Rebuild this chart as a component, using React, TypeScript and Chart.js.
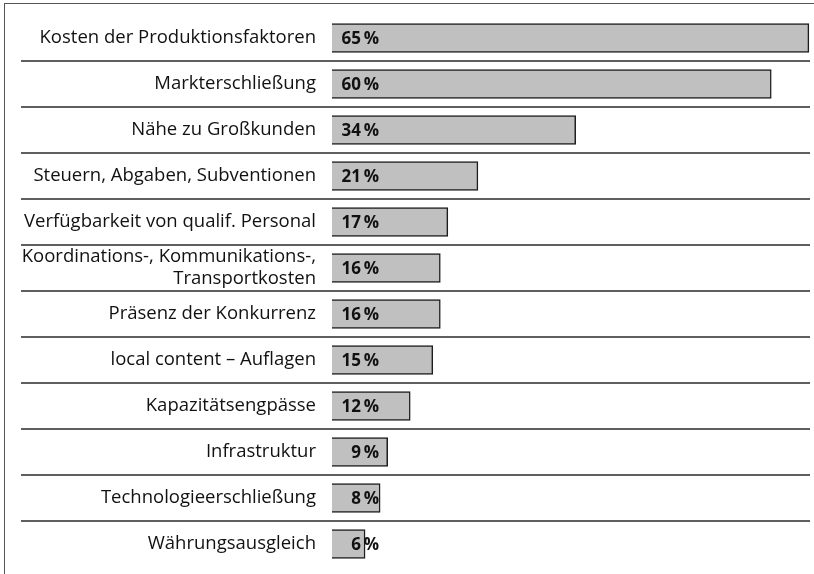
import React, { useEffect, useRef } from "react";
import { Chart, registerables } from "chart.js";

Chart.register(...registerables);

const categories: (string | string[])[] = [
  "Kosten der Produktionsfaktoren",
  "Markterschließung",
  "Nähe zu Großkunden",
  "Steuern, Abgaben, Subventionen",
  "Verfügbarkeit von qualif. Personal",
  ["Koordinations-, Kommunikations-,", "Transportkosten"],
  "Präsenz der Konkurrenz",
  "local content – Auflagen",
  "Kapazitätsengpässe",
  "Infrastruktur",
  "Technologieerschließung",
  "Währungsausgleich",
];

const values: number[] = [65, 60, 34, 21, 17, 16, 16, 15, 12, 9, 8, 6];

const valueLabels: string[] = values.map((v) => `${v}\u2009%`);

const FONT = "'Open Sans', 'Noto Sans', sans-serif";

const decorPlugin = {
  id: "decor",
  afterDatasetsDraw(chart: any) {
    const { ctx, chartArea } = chart;
    const y = chart.scales.y;
    ctx.save();
    // separators between rows
    ctx.strokeStyle = "#2a2a2a";
    ctx.lineWidth = 1.5;
    for (let i = 0; i < categories.length - 1; i++) {
      const yy = (y.getPixelForValue(i) + y.getPixelForValue(i + 1)) / 2;
      ctx.beginPath();
      ctx.moveTo(21, yy);
      ctx.lineTo(chartArea.right, yy);
      ctx.stroke();
    }
    // value labels
    const meta = chart.getDatasetMeta(0);
    ctx.fillStyle = "#111";
    ctx.font = `bold 17px ${FONT}`;
    ctx.textAlign = "right";
    ctx.textBaseline = "middle";
    meta.data.forEach((bar: any, i: number) => {
      ctx.fillText(valueLabels[i], chartArea.left + 47, bar.y + 1);
    });
    ctx.restore();
  },
};

export default function App() {
  const ref = useRef<HTMLCanvasElement | null>(null);
  useEffect(() => {
    if (!ref.current) return;
    const chart = new Chart(ref.current, {
      type: "bar",
      data: {
        labels: categories,
        datasets: [
          {
            data: values,
            backgroundColor: "#c0c0c0",
            borderColor: "#1e1e1e",
            borderWidth: 1.5,
            borderSkipped: false,
            barThickness: 29,
          },
        ],
      },
      options: {
        indexAxis: "y",
        animation: false,
        responsive: false,
        maintainAspectRatio: false,
        layout: { padding: { top: 15, bottom: 7, left: 0, right: 4 } },
        plugins: {
          legend: { display: false },
          tooltip: { enabled: false },
        },
        scales: {
          x: {
            display: false,
            min: 1.6,
            max: 65.15,
          },
          y: {
            grid: { display: false, drawTicks: false },
            border: { display: false },
            afterFit: (scale: any) => {
              scale.width = 332;
              scale.paddingTop = 0;
              scale.paddingBottom = 0;
            },
            ticks: {
              autoSkip: false,
              padding: 16,
              color: "#111",
              crossAlign: "near",
              font: { family: FONT, size: 18.5, lineHeight: 1.2 },
            },
          },
        },
      },
      plugins: [decorPlugin],
    });
    return () => chart.destroy();
  }, []);
  return (
    <div
      style={{
        position: "absolute",
        left: 0,
        top: 0,
        width: 814,
        height: 574,
        background: "#fff",
      }}
    >
      <div
        style={{
          position: "absolute",
          left: 4,
          top: 3,
          width: 820,
          height: 600,
          borderLeft: "1.5px solid #555",
          borderTop: "1.5px solid #555",
        }}
      />
      <canvas
        ref={ref}
        width={814}
        height={574}
        style={{ position: "absolute", left: 0, top: 0 }}
      />
    </div>
  );
}
